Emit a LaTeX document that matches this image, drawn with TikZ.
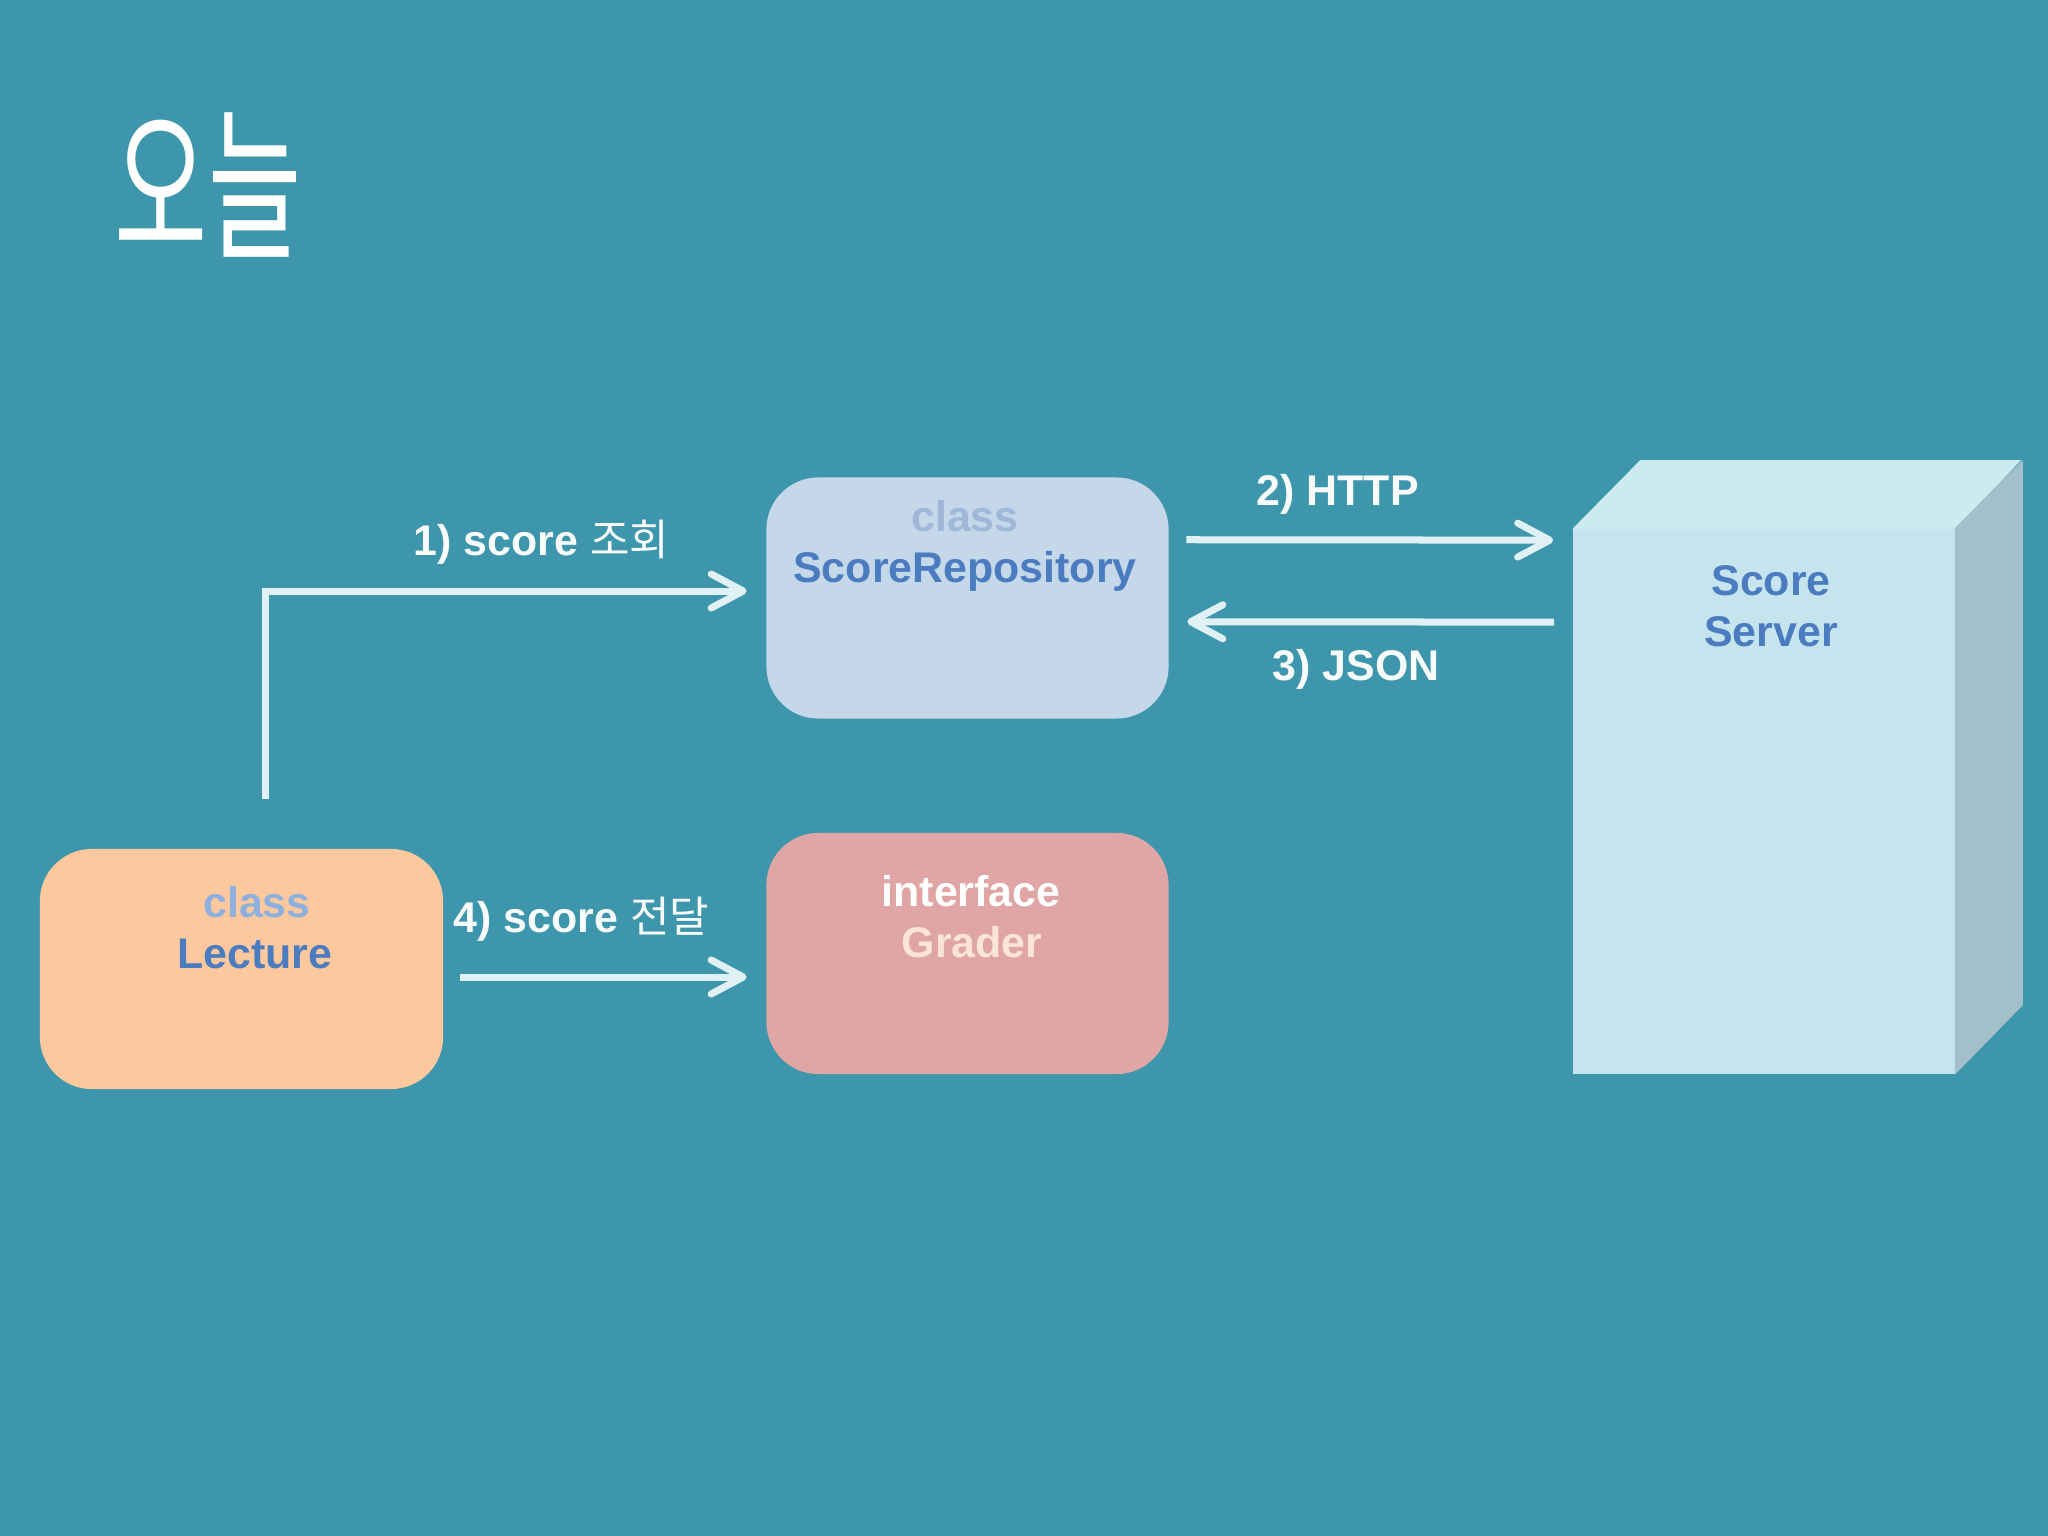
\documentclass[tikz,border=0pt]{standalone}
\usepackage{fontspec}
\setmainfont{Liberation Sans}
\newfontfamily\kr{Noto Sans CJK KR}
\usetikzlibrary{arrows.meta,calc}
\definecolor{bg}{HTML}{3E96AD}
\definecolor{repofill}{HTML}{C5D8EA}
\definecolor{lecfill}{HTML}{FDC89E}
\definecolor{gradfill}{HTML}{E0A5A5}
\definecolor{srvfront}{HTML}{C5E4EE}
\definecolor{srvtop}{HTML}{CDEAF1}
\definecolor{srvside}{HTML}{A3BFC9}
\definecolor{arrcol}{HTML}{E0F1F5}
\definecolor{lbl}{HTML}{F7FBFC}
\definecolor{blue}{HTML}{4A7CBF}
\definecolor{clsrepo}{HTML}{9FB7D9}
\definecolor{clslec}{HTML}{8DB0DF}
\definecolor{gradtxt}{HTML}{FCE4D6}
\begin{document}
\begin{tikzpicture}[x=0.01cm,y=-0.01cm,
  box/.style={rounded corners=0.52cm, inner sep=0pt, draw=none, minimum width=4.02cm, minimum height=2.41cm},
  txt/.style={inner sep=0pt, font=\fontsize{12.2}{14}\selectfont\bfseries, anchor=base},
  lab/.style={inner sep=0pt, font=\fontsize{12.2}{14}\selectfont\bfseries, anchor=base west, text=lbl},
  arr/.style={draw=arrcol, line width=0.07cm, -{Straight Barb[length=0.32cm, width=0.34cm, line cap=round, line join=round]}}
]
\fill[bg] (0,0) rectangle (2048,1536);
\useasboundingbox (0,0) rectangle (2048,1536);

% title
\node[inner sep=0pt, text=white, font=\kr\mdseries\fontsize{36}{40}\selectfont, xscale=0.8, yscale=1.3, transform shape] (title) at (208,185) {오늘};

% boxes
\node[box, fill=repofill] (repo) at (967.5,598) {};
\node[box, fill=lecfill, minimum width=4.03cm, minimum height=2.40cm] (lec) at (241.5,969) {};
\node[box, fill=gradfill] (grader) at (967.5,953.5) {};
\node[rectangle, inner sep=0pt, fill=srvfront, minimum width=3.82cm, minimum height=5.45cm] (srv) at (1764,801.5) {};
\fill[srvtop] ($(srv.north west)+(0,1)$) -- ++(68,-69) -- ++(381,0) -- ($(srv.north east)+(0,1)$) -- cycle;
\fill[srvside] ($(srv.north east)+(-1,0)$) -- ++(68,-68) -- ++(0,545) -- ($(srv.south east)+(-1,0)$) -- cycle;

% box texts
\node[txt, text=clsrepo] (repoc) at (965,531) {class};
\node[txt, text=blue] (repon) at (965,582) {ScoreRepository};
\node[txt, text=clslec] (lecc) at (257,917) {class};
\node[txt, text=blue] (lecn) at (255,968) {Lecture};
\node[txt, text=white] (gradc) at (971,906) {interface};
\node[txt, text=gradtxt] (gradn) at (972,957) {Grader};
\node[txt, text=blue] (srvc) at (1771,595) {Score};
\node[txt, text=blue] (srvn) at (1771,646) {Server};

% arrows
\draw[arr] ($(lec.north west)+(226,-49)$) |- ($(repo.west)+(-19,-7)$);
\draw[arr] ($(repo.north east)+(17,63)$) -- ($(srv.north west)+(-19,12)$);
\draw[arr] ($(srv.north west)+(-18,94)$) -- ($(repo.north east)+(18,145)$);
\draw[arr] ($(lec.east)+(16,8)$) -- ($(grader.west)+(-19,23.5)$);

% labels
\node[lab] (l1) at (413,555) {1) score {\kr\mdseries 조회}};
\node[lab] (l2) at (1256,505) {2) HTTP};
\node[lab] (l3) at (1272,680) {3) JSON};
\node[lab] (l4) at (453,932) {4) score {\kr\mdseries 전달}};
\end{tikzpicture}
\end{document}
